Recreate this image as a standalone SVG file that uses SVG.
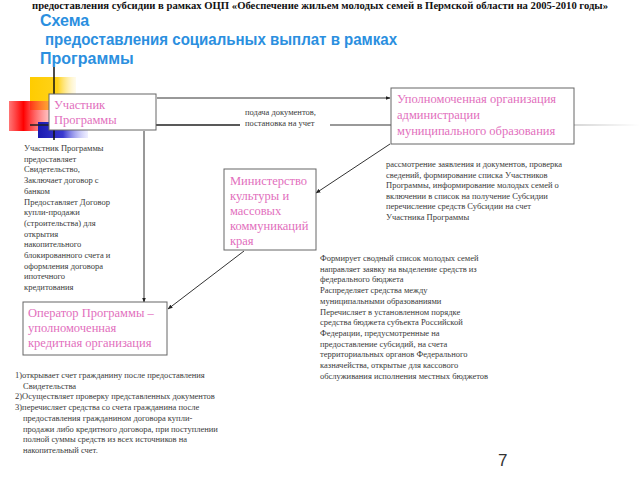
<svg xmlns="http://www.w3.org/2000/svg" width="640" height="480" viewBox="0 0 640 480">
<defs>
<linearGradient id="gy" x1="0" y1="0" x2="1" y2="0"><stop offset="0" stop-color="#ffcc00"/><stop offset="0.6" stop-color="#ffd21a"/><stop offset="1" stop-color="#fff3c0" stop-opacity="0.3"/></linearGradient>
<linearGradient id="gr" x1="0" y1="0" x2="1" y2="0"><stop offset="0" stop-color="#ff1a1a" stop-opacity="0.6"/><stop offset="0.3" stop-color="#ff0000"/><stop offset="1" stop-color="#ff8080" stop-opacity="0.2"/></linearGradient>
<linearGradient id="gb" x1="0" y1="0" x2="1" y2="0"><stop offset="0" stop-color="#1a1ab0"/><stop offset="0.5" stop-color="#3a3ad0"/><stop offset="1" stop-color="#b0b0ff" stop-opacity="0.2"/></linearGradient>
<linearGradient id="gl" x1="0" y1="0" x2="1" y2="0"><stop offset="0" stop-color="#999"/><stop offset="1" stop-color="#fff"/></linearGradient>
<marker id="ah" viewBox="0 0 10 10" refX="9" refY="5" markerWidth="5" markerHeight="5" orient="auto"><path d="M0,1 L10,5 L0,9 z" fill="#222"/></marker>
<style>
.hdr{font-family:"Liberation Serif",serif;font-weight:bold;font-size:10.5px;fill:#111}
.ttl{font-family:"Liberation Sans",Arial,sans-serif;font-weight:bold;font-size:16px;fill:#2b8fdf}
.box{fill:#fff;stroke:#666;stroke-width:1}
.pk{font-family:"Liberation Serif","Times New Roman",serif;font-size:12.5px;fill:#e26fbd}
.sm{font-family:"Liberation Serif",serif;font-size:8.5px;fill:#3a3a3a}
.ln{stroke:#333;stroke-width:1;fill:none}
</style>
</defs>
<text class="hdr" x="32" y="8.5" textLength="576" lengthAdjust="spacingAndGlyphs">предоставления субсидии в рамках ОЦП «Обеспечение жильем молодых семей в Пермской области на 2005-2010 годы»</text>
<text class="ttl" x="40" y="26">Схема</text>
<text class="ttl" x="45" y="45" textLength="352" lengthAdjust="spacingAndGlyphs">предоставления социальных выплат в рамках</text>
<text class="ttl" x="40" y="64">Программы</text>
<g id="decor">
<rect x="30" y="77" width="46" height="33" fill="url(#gy)"/>
<rect x="9" y="101" width="48" height="30" fill="url(#gr)"/>
<rect x="38" y="122" width="50" height="16" fill="url(#gb)"/>
<line x1="54" y1="67" x2="54" y2="140" stroke="#111" stroke-width="1.5"/>
<line x1="30" y1="125" x2="240" y2="125" stroke="#222" stroke-width="1.5"/>
<line x1="330" y1="125" x2="395" y2="125" stroke="#777" stroke-width="1.5"/>
<rect x="555" y="124.5" width="85" height="1" fill="url(#gl)"/>
</g>
<g id="connectors">
<line class="ln" x1="157" y1="98" x2="390" y2="98" stroke="#555" marker-end="url(#ah)"/>
<line class="ln" x1="144" y1="131" x2="144" y2="302" marker-end="url(#ah)"/>
<line class="ln" x1="390" y1="144" x2="316" y2="193" marker-end="url(#ah)"/>
<line class="ln" x1="244" y1="251" x2="168" y2="309" marker-end="url(#ah)"/>
</g>
<g id="n1">
<rect class="box" x="49" y="94" width="107" height="36"/>
<text class="pk" x="54" y="109">Участник</text>
<text class="pk" x="54" y="124">Программы</text>
</g>
<g id="n2">
<rect class="box" x="391" y="88" width="183" height="56"/>
<text class="pk" x="397" y="103">Уполномоченная организация</text>
<text class="pk" x="397" y="119">администрации</text>
<text class="pk" x="397" y="135">муниципального образования</text>
</g>
<g id="n3">
<rect class="box" x="224" y="169" width="92" height="81"/>
<text class="pk" x="230" y="185">Министерство</text>
<text class="pk" x="230" y="200">культуры и</text>
<text class="pk" x="230" y="215">массовых</text>
<text class="pk" x="230" y="230">коммуникаций</text>
<text class="pk" x="230" y="245">края</text>
</g>
<g id="n4">
<rect class="box" x="23" y="302" width="144" height="53"/>
<text class="pk" x="28" y="317">Оператор Программы –</text>
<text class="pk" x="28" y="332">уполномоченная</text>
<text class="pk" x="28" y="347">кредитная организация</text>
</g>
<g id="t-mid">
<text class="sm" x="245" y="115">подача документов,</text>
<text class="sm" x="245" y="126">постановка на учет</text>
</g>
<g id="t-left">
<text class="sm" x="24" y="151">Участник Программы</text>
<text class="sm" x="24" y="161.7">предоставляет</text>
<text class="sm" x="24" y="172.4">Свидетельство,</text>
<text class="sm" x="24" y="183.1">Заключает договор с</text>
<text class="sm" x="24" y="193.8">банком</text>
<text class="sm" x="24" y="204.5">Предоставляет Договор</text>
<text class="sm" x="24" y="215.2">купли-продажи</text>
<text class="sm" x="24" y="225.9">(строительства) для</text>
<text class="sm" x="24" y="236.6">открытия</text>
<text class="sm" x="24" y="247.3">накопительного</text>
<text class="sm" x="24" y="258">блокированного счета и</text>
<text class="sm" x="24" y="268.7">оформления договора</text>
<text class="sm" x="24" y="279.4">ипотечного</text>
<text class="sm" x="24" y="290.1">кредитования</text>
</g>
<g id="t-right">
<text class="sm" x="386" y="167">рассмотрение заявления и документов, проверка</text>
<text class="sm" x="386" y="177.5">сведений, формирование списка Участников</text>
<text class="sm" x="386" y="188">Программы, информирование молодых семей о</text>
<text class="sm" x="386" y="198.5">включении в список на получение Субсидии</text>
<text class="sm" x="386" y="209">перечисление средств Субсидии на  счет</text>
<text class="sm" x="386" y="219.5">Участника Программы</text>
</g>
<g id="t-center">
<text class="sm" x="320" y="261">Формирует сводный список молодых семей</text>
<text class="sm" x="320" y="271.7">направляет  заявку на выделение средств  из</text>
<text class="sm" x="320" y="282.4">федерального бюджета</text>
<text class="sm" x="320" y="293.1">Распределяет средства между</text>
<text class="sm" x="320" y="303.8">муниципальными образованиями</text>
<text class="sm" x="320" y="314.5">Перечисляет в установленном порядке</text>
<text class="sm" x="320" y="325.2">средства бюджета субъекта Российской</text>
<text class="sm" x="320" y="335.9">Федерации, предусмотренные на</text>
<text class="sm" x="320" y="346.6">предоставление субсидий, на счета</text>
<text class="sm" x="320" y="357.3">территориальных органов Федерального</text>
<text class="sm" x="320" y="368">казначейства, открытые для кассового</text>
<text class="sm" x="320" y="378.7">обслуживания исполнения местных бюджетов</text>
</g>
<g id="t-bottom">
<text class="sm" x="15" y="378">1)открывает счет гражданину после предоставления</text>
<text class="sm" x="23" y="388.7">Свидетельства</text>
<text class="sm" x="15" y="399.4">2)Осуществляет проверку представленных документов</text>
<text class="sm" x="15" y="410.1">3)перечисляет средства со счета гражданина после</text>
<text class="sm" x="23" y="420.8">предоставления гражданином договора  купли-</text>
<text class="sm" x="23" y="431.5">продажи либо  кредитного договора, при поступлении</text>
<text class="sm" x="23" y="442.2">полной суммы средств из всех источников на</text>
<text class="sm" x="23" y="452.9">накопительный счет.</text>
</g>
<text x="498" y="466" font-family="Liberation Sans, Arial, sans-serif" font-size="17" fill="#333">7</text>
</svg>
